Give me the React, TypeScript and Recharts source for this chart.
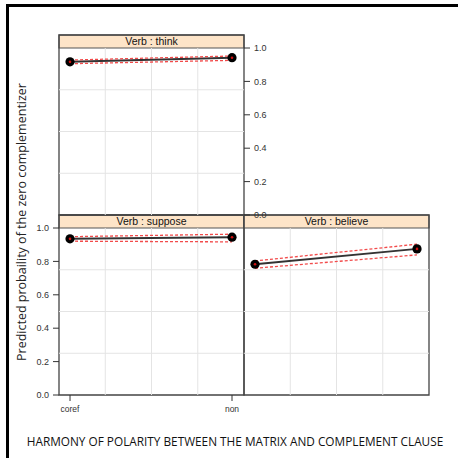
import React from 'react';
import { ComposedChart, Line, XAxis, YAxis, ReferenceArea, ReferenceLine } from 'recharts';

// ---- data ----
const categories = ['coref', 'non'];
const xPositions = [1, 2];
const yTicks = [0, 0.2, 0.4, 0.6, 0.8, 1.0];

const thinkFit = [0.917, 0.942];
const thinkLower = [0.906, 0.926];
const thinkUpper = [0.928, 0.952];

const supposeFit = [0.935, 0.945];
const supposeLower = [0.921, 0.917];
const supposeUpper = [0.948, 0.963];

const believeFit = [0.783, 0.875];
const believeLower = [0.759, 0.839];
const believeUpper = [0.803, 0.903];

const panelTitles = ['Verb : think', 'Verb : suppose', 'Verb : believe'];
const xTitle = 'HARMONY OF POLARITY BETWEEN THE MATRIX AND COMPLEMENT CLAUSE';
const yTitle = 'Predicted probaility of the zero complementizer';

// ---- layout / style ----
const PW = 185; // panel width
const PH = 167; // plot height
const SH = 13; // strip height
const AXW = 40;
const TOPH = 10;
const BOTH = 30;
const X_DOMAIN: [number, number] = [0.932, 2.074];
const Y_TOP = 1 + SH / PH;
const FONT = '"Liberation Sans", Arial, sans-serif';
const TITLE_FONT = '"Open Sans", "Noto Sans", sans-serif';

const build = (fit: number[], lower: number[], upper: number[]) =>
  categories.map((c, i) => ({ x: xPositions[i], cat: c, fit: fit[i], lower: lower[i], upper: upper[i] }));

const renderDot = (props: any) => {
  const { cx, cy, index } = props;
  if (cx == null || cy == null) return <g key={`d-${index}`} />;
  return (
    <g key={`d-${index}`}>
      <circle cx={cx} cy={cy} r={4.6} fill="#000" />
      <circle cx={cx} cy={cy} r={1.3} fill="#d01010" />
    </g>
  );
};

type PanelProps = {
  title: string;
  data: any[];
  left: number;
  top: number;
  leftTicks: boolean;
  leftLabels: boolean;
  rightTicks: boolean;
  rightLabels: boolean;
  bottomTicks: boolean;
  bottomLabels: boolean;
  topTicks: boolean;
};

const Panel = (p: PanelProps) => {
  const span = X_DOMAIN[1] - X_DOMAIN[0];
  const vGrid = [1, 2, 3].map((k) => X_DOMAIN[0] + (span * k) / 4);
  const hGrid = [0.25, 0.5, 0.75];
  const yFmt = (v: number) => v.toFixed(1);
  const xFmt = (v: number) => categories[xPositions.indexOf(v)] ?? '';
  return (
    <div style={{ position: 'absolute', left: p.left - AXW, top: p.top - TOPH, fontFamily: FONT }}>
      <ComposedChart
        width={PW + 2 * AXW}
        height={PH + SH + TOPH + BOTH}
        data={p.data}
        margin={{ top: 0, right: 0, bottom: 0, left: 0 }}
      >
        <XAxis
          xAxisId={0}
          dataKey="x"
          type="number"
          domain={X_DOMAIN}
          ticks={xPositions}
          allowDataOverflow
          orientation="bottom"
          height={BOTH}
          axisLine={false}
          tickLine={p.bottomTicks ? { stroke: '#333', strokeWidth: 1 } : false}
          tick={p.bottomLabels ? { fontSize: 8.5, fill: '#333' } : false}
          tickFormatter={xFmt}
          tickSize={6}
          tickMargin={5}
          interval={0}
        />
        <XAxis
          xAxisId="top"
          dataKey="x"
          type="number"
          domain={X_DOMAIN}
          ticks={xPositions}
          allowDataOverflow
          orientation="top"
          height={TOPH}
          axisLine={false}
          tickLine={p.topTicks ? { stroke: '#333', strokeWidth: 1 } : false}
          tick={false}
          tickSize={6}
        />
        <YAxis
          yAxisId={0}
          type="number"
          domain={[0, Y_TOP]}
          ticks={yTicks}
          allowDataOverflow
          orientation="left"
          width={AXW}
          axisLine={false}
          tickLine={p.leftTicks ? { stroke: '#333', strokeWidth: 1 } : false}
          tick={p.leftLabels ? { fontSize: 9, fill: '#333' } : false}
          tickFormatter={yFmt}
          tickSize={6}
          tickMargin={4}
          interval={0}
        />
        <YAxis
          yAxisId="right"
          type="number"
          domain={[0, Y_TOP]}
          ticks={yTicks}
          allowDataOverflow
          orientation="right"
          width={AXW}
          axisLine={false}
          tickLine={p.rightTicks ? { stroke: '#333', strokeWidth: 1 } : false}
          tick={p.rightLabels ? { fontSize: 9, fill: '#333' } : false}
          tickFormatter={yFmt}
          tickSize={6}
          tickMargin={4}
          interval={0}
        />
        {hGrid.map((v) => (
          <ReferenceLine key={`h${v}`} y={v} stroke="#e4e4e4" strokeWidth={1} />
        ))}
        {vGrid.map((v) => (
          <ReferenceLine
            key={`v${v}`}
            segment={[
              { x: v, y: 0 },
              { x: v, y: 1 },
            ]}
            stroke="#e4e4e4"
            strokeWidth={1}
          />
        ))}
        <ReferenceArea
          x1={X_DOMAIN[0]}
          x2={X_DOMAIN[1]}
          y1={1}
          y2={Y_TOP}
          fill="#fde4c8"
          fillOpacity={1}
          stroke="#555"
          strokeWidth={1.2}
          label={{ value: p.title, position: 'center', fontSize: 10.5, fill: '#111' }}
        />
        <ReferenceArea
          x1={X_DOMAIN[0]}
          x2={X_DOMAIN[1]}
          y1={0}
          y2={Y_TOP}
          fill="none"
          fillOpacity={0}
          stroke="#444"
          strokeWidth={1.3}
        />
        <Line dataKey="fit" stroke="#333" strokeWidth={2} dot={false} activeDot={false} isAnimationActive={false} />
        <Line dataKey="lower" stroke="#f24b4b" strokeWidth={1.3} strokeDasharray="3 2" dot={false} activeDot={false} isAnimationActive={false} />
        <Line dataKey="upper" stroke="#f24b4b" strokeWidth={1.3} strokeDasharray="3 2" dot={false} activeDot={false} isAnimationActive={false} />
        <Line dataKey="fit" stroke="none" dot={renderDot} activeDot={false} isAnimationActive={false} />
      </ComposedChart>
    </div>
  );
};

export default function App() {
  return (
    <div style={{ position: 'fixed', left: 0, top: 0, width: 458, height: 458, background: '#fff', overflow: 'hidden', fontFamily: FONT }}>
      <div style={{ position: 'absolute', left: 6, top: 4, width: 470, height: 470, borderLeft: '3px solid #000', borderTop: '3px solid #000' }} />
      <Panel
        title={panelTitles[1]}
        data={build(supposeFit, supposeLower, supposeUpper)}
        left={59}
        top={215}
        leftTicks
        leftLabels
        rightTicks={false}
        rightLabels={false}
        bottomTicks
        bottomLabels
        topTicks={false}
      />
      <Panel
        title={panelTitles[2]}
        data={build(believeFit, believeLower, believeUpper)}
        left={244}
        top={215}
        leftTicks={false}
        leftLabels={false}
        rightTicks
        rightLabels={false}
        bottomTicks
        bottomLabels={false}
        topTicks={false}
      />
      <Panel
        title={panelTitles[0]}
        data={build(thinkFit, thinkLower, thinkUpper)}
        left={59}
        top={35}
        leftTicks
        leftLabels={false}
        rightTicks
        rightLabels
        bottomTicks={false}
        bottomLabels={false}
        topTicks
      />
      <div
        style={{
          position: 'absolute',
          left: 22 - 160,
          top: 222 - 9,
          width: 320,
          height: 18,
          lineHeight: '18px',
          textAlign: 'center',
          fontSize: 12.5,
          fontFamily: TITLE_FONT,
          color: '#222',
          transform: 'rotate(-90deg)',
          whiteSpace: 'nowrap',
        }}
      >
        {yTitle}
      </div>
      <div
        style={{
          position: 'absolute',
          left: 0,
          top: 432,
          width: 470,
          height: 18,
          lineHeight: '18px',
          textAlign: 'center',
          fontSize: 11.8,
          fontFamily: TITLE_FONT,
          color: '#111',
          whiteSpace: 'nowrap',
        }}
      >
        {xTitle}
      </div>
    </div>
  );
}
